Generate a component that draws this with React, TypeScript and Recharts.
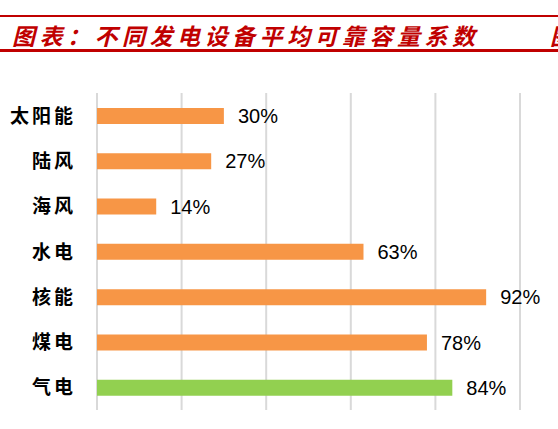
import React from 'react';
import { BarChart, Bar, XAxis, YAxis, CartesianGrid, LabelList, Cell } from 'recharts';

const categories = ['太阳能', '陆风', '海风', '水电', '核能', '煤电', '气电'];
const capacityFactor = [30, 27, 14, 63, 92, 78, 84];
const barColors = ['#F79646', '#F79646', '#F79646', '#F79646', '#F79646', '#F79646', '#92D050'];
const xTicks = [0, 20, 40, 60, 80, 100];

const data = categories.map((name, i) => ({ name, value: capacityFactor[i], color: barColors[i] }));

const CategoryTick = ({ x, y, payload }: any) => (
  <text
    x={x}
    y={y}
    dy={7}
    textAnchor="end"
    fill="#000"
    fontSize={19}
    fontWeight="bold"
    fontFamily="'Noto Sans CJK SC', sans-serif"
    letterSpacing={3}
  >
    {payload.value}
  </text>
);

const titleStyle: React.CSSProperties = {
  position: 'absolute',
  top: 19,
  whiteSpace: 'nowrap',
  color: '#C00000',
  fontStyle: 'italic',
  fontWeight: 'bold',
  fontSize: 23,
  fontFamily: "'Noto Sans CJK SC', sans-serif",
  lineHeight: '32px',
};

const App: React.FC = () => {
  return (
    <div style={{ position: 'absolute', left: 0, top: 0, width: 558, height: 429, overflow: 'hidden', background: '#fff' }}>
      <div style={{ position: 'absolute', left: 0, top: 15, width: 558, height: 2, background: '#C00000' }} />
      <div style={{ position: 'absolute', left: 0, top: 49, width: 558, height: 3, background: '#C00000' }} />
      <div style={{ ...titleStyle, left: 12, letterSpacing: 4.5 }}>图表：不同发电设备平均可靠容量系数</div>
      <div style={{ ...titleStyle, left: 550 }}>图表</div>
      <div style={{ position: 'absolute', left: 0, top: 0 }}>
        <BarChart
          width={558}
          height={429}
          data={data}
          layout="vertical"
          margin={{ top: 93, right: 38, bottom: 19, left: 0 }}
          barSize={16}
        >
          <CartesianGrid horizontal={false} stroke="#D9D9D9" strokeWidth={2} />
          <XAxis type="number" domain={[0, 100]} ticks={xTicks} hide />
          <YAxis
            type="category"
            dataKey="name"
            width={97}
            axisLine={false}
            tickLine={false}
            tickMargin={15}
            tick={<CategoryTick />}
            interval={0}
          />
          <Bar dataKey="value" isAnimationActive={false}>
            {data.map((d) => (
              <Cell key={d.name} fill={d.color} />
            ))}
            <LabelList
              dataKey="value"
              position="right"
              offset={14}
              formatter={(v: any) => `${v}%`}
              fill="#000"
              fontSize={20}
              fontFamily="'Liberation Sans', Arial, sans-serif"
            />
          </Bar>
        </BarChart>
      </div>
    </div>
  );
};

export default App;
